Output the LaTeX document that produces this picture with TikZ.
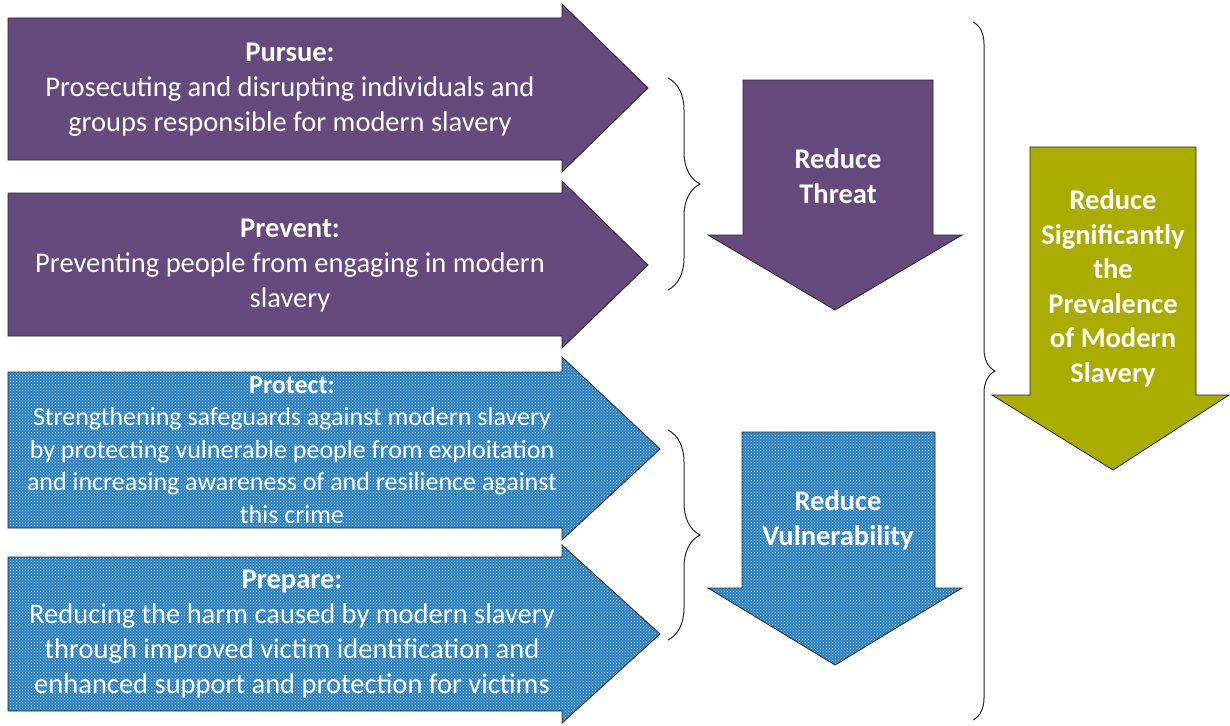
\documentclass[tikz,border=0pt]{standalone}
\usepackage{fontspec}
\setmainfont{Carlito}
\usetikzlibrary{decorations.pathreplacing,patterns}

\definecolor{threatpurple}{RGB}{102,73,125}
\definecolor{vulnblue}{RGB}{42,127,193}
\definecolor{goalgreen}{RGB}{170,173,0}

\begin{document}
\begin{tikzpicture}[
  x=1pt,y=-1pt,
  purplearrow/.style={fill=threatpurple,draw=black!85,line width=0.8pt},
  bluearrow/.style={draw=black!85,line width=0.8pt,preaction={fill=vulnblue},
    pattern=crosshatch dots,pattern color=white!70!vulnblue},
  greenarrow/.style={fill=goalgreen,draw=black!85,line width=0.8pt},
  ]
  \tikzset{%
    bodytext/.style={
      text=white,
      align=center,
      inner sep=0pt,
      font=\fontsize{28.5}{35}\selectfont,
    },
    headtext/.style={
      bodytext,
      font=\fontsize{28.5}{34.5}\selectfont\bfseries,
    },
    curly/.style={
      draw=black!85,
      line width=1pt,
      decorate,
      decoration={brace,amplitude=32pt},
    },
  }
  \useasboundingbox (0,0) rectangle (1230,725);
  %Arrows
  \draw[purplearrow] (8,18) -- (562,18) -- (562,4) -- (648,88) -- (562,172) -- (562,160) -- (8,160) -- cycle;
  \draw[purplearrow] (8,193) -- (562,193) -- (562,181) -- (648,265) -- (562,348) -- (562,336) -- (8,336) -- cycle;
  \draw[bluearrow] (8,372) -- (562,372) -- (562,357) -- (660,449) -- (562,540) -- (562,528) -- (8,528) -- cycle;
  \draw[bluearrow] (8,557) -- (562,557) -- (562,545) -- (660,634) -- (562,723) -- (562,711) -- (8,711) -- cycle;
  \draw[purplearrow] (743,80) -- (933,80) -- (933,235) -- (962,235) -- (835,310) -- (708,235) -- (743,235) -- cycle;
  \draw[bluearrow] (742,432) -- (935,432) -- (935,588) -- (962,588) -- (835,665) -- (708,588) -- (742,588) -- cycle;
  \draw[greenarrow] (1030,147) -- (1196,147) -- (1196,395) -- (1229,395) -- (1113,470) -- (992,395) -- (1030,395) -- cycle;
  %Texts
  \node[bodytext] (pursue) at (290,90) {\textbf{Pursue:}\\Prosecuting and disrupting individuals and\\groups responsible for modern slavery};
  \node[bodytext] (prevent) at (290,266) {\textbf{Prevent:}\\Preventing people from engaging in modern\\slavery};
  \node[bodytext,font=\fontsize{26}{32.5}\selectfont] (protect) at (292,450) {\textbf{Protect:}\\Strengthening safeguards against modern slavery\\by protecting vulnerable people from exploitation\\and increasing awareness of and resilience against\\this crime};
  \node[bodytext] (prepare) at (292,634) {\textbf{Prepare:}\\Reducing the harm caused by modern slavery\\through improved victim identification and\\enhanced support and protection for victims};
  \node[headtext] (threat) at (838,176) {Reduce\\Threat};
  \node[headtext] (vuln) at (838,520) {Reduce\\Vulnerability};
  \node[headtext] (goal) at (1113,288) {Reduce\\Significantly\\the\\Prevalence\\of Modern\\Slavery};
  %Braces
  \coordinate (threattop) at (668,78);
  \coordinate (threatbot) at (668,290);
  \coordinate (vulntop) at (668,430);
  \coordinate (vulnbot) at (668,640);
  \coordinate (goaltop) at (973,22);
  \coordinate (goalbot) at (973,720);
  \draw[curly] (threattop) -- (threatbot);
  \draw[curly] (vulntop) -- (vulnbot);
  \draw[curly,decoration={amplitude=22pt}] (goaltop) -- (goalbot);
\end{tikzpicture}
\end{document}
